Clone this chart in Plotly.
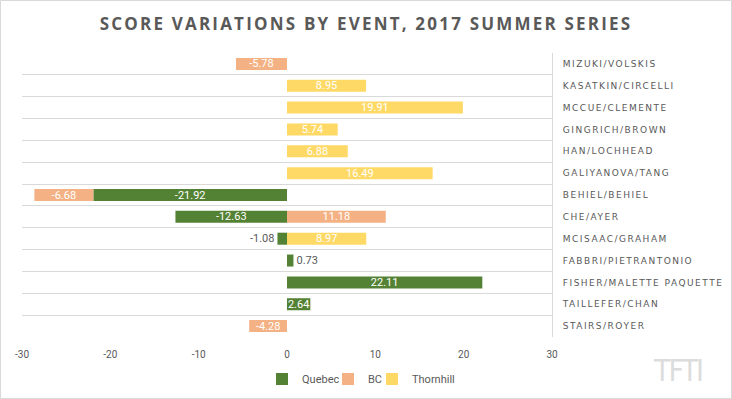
import plotly.graph_objects as go

categories = ["MIZUKI/VOLSKIS", "KASATKIN/CIRCELLI", "MCCUE/CLEMENTE", "GINGRICH/BROWN",
              "HAN/LOCHHEAD", "GALIYANOVA/TANG", "BEHIEL/BEHIEL", "CHE/AYER",
              "MCISAAC/GRAHAM", "FABBRI/PIETRANTONIO", "FISHER/MALETTE PAQUETTE",
              "TAILLEFER/CHAN", "STAIRS/ROYER"]
quebec = [None, None, None, None, None, None, -21.92, -12.63, -1.08, 0.73, 22.11, 2.64, None]
bc = [-5.78, None, None, None, None, None, -6.68, 11.18, None, None, None, None, -4.28]
thornhill = [None, 8.95, 19.91, 5.74, 6.88, 16.49, None, None, 8.97, None, None, None, None]
x_ticks = [-30, -20, -10, 0, 10, 20, 30]
title_text = "SCORE VARIATIONS BY EVENT, 2017 SUMMER SERIES"

series = [("Quebec", quebec, "#548235"), ("BC", bc, "#F4B183"), ("Thornhill", thornhill, "#FFD966")]
legend_text_x = [302, 368, 412]  # px where each legend label starts

W, H = 732, 399
L, R, T, B = 22, 180, 53, 62
pw, ph = W - L - R, H - T - B

fig = go.Figure()
for i, (name, vals, col) in enumerate(series):
    texts = ["" if v is None else f"{v:.2f}" for v in vals]
    pos = ["outside" if (v is not None and abs(v) < 2) else "inside" for v in vals]
    fig.add_trace(go.Bar(
        name=name, y=categories, x=vals, orientation="h",
        marker=dict(color=col, line=dict(width=0)),
        text=texts, textposition=pos, insidetextanchor="middle", textangle=0,
        insidetextfont=dict(color="white", size=11, family="Roboto"),
        outsidetextfont=dict(color="#595959", size=11, family="Roboto"),
        constraintext="none", cliponaxis=False,
        legend="legend" if i == 0 else f"legend{i + 1}",
    ))

legends = {}
for i, tx in enumerate(legend_text_x):
    key = "legend" if i == 0 else f"legend{i + 1}"
    legends[key] = dict(orientation="h", x=(tx - 40 - L) / pw, xanchor="left",
                        y=(H - B - 379) / ph, yanchor="middle",
                        font=dict(family="Roboto", size=11, color="#595959"),
                        itemwidth=30, bgcolor="rgba(0,0,0,0)", borderwidth=0)

fig.update_layout(
    width=W, height=H, barmode="relative", bargap=0.45,
    margin=dict(l=L, r=R, t=T, b=B, autoexpand=False),
    paper_bgcolor="white", plot_bgcolor="white",
    uniformtext=dict(mode="show", minsize=11),
    title=dict(text=f'<span style="letter-spacing:2.2px">{title_text}</span>',
               x=0.5, xref="container", xanchor="center",
               y=1 - 24 / H, yref="container", yanchor="middle",
               font=dict(family="Open Sans", size=17, color="#595959", weight="bold")),
    xaxis=dict(range=[-30, 30], tickvals=x_ticks, ticktext=[str(t) for t in x_ticks],
               showgrid=False, zeroline=False, showline=False, automargin=False,
               ticklabelstandoff=10,
               tickfont=dict(family="Roboto", size=10, color="#595959")),
    yaxis=dict(side="right", autorange="reversed", type="category",
               categoryorder="array", categoryarray=categories,
               tickvals=categories,
               ticktext=[f'<span style="letter-spacing:1.5px">{c}</span>' for c in categories],
               tickson="boundaries", showgrid=True, gridcolor="#d9d9d9", gridwidth=1,
               showline=True, linecolor="#d9d9d9", linewidth=1, ticks="", automargin=False,
               tickfont=dict(family="DejaVu Sans", size=9, color="#595959"),
               ticklabelstandoff=8),
    showlegend=True,
    **legends,
)

fig.add_annotation(text='<span style="letter-spacing:-2px">TFTI</span>', xref="paper", yref="paper",
                   x=(677 - L) / pw, y=(H - B - 370) / ph, showarrow=False,
                   xanchor="center", yanchor="middle",
                   font=dict(family="DejaVu Sans Condensed, Liberation Sans Narrow, Roboto",
                             size=30, color="#dcdcdc"))

fig.add_shape(type="rect", xref="paper", yref="paper",
              x0=(0.5 - L) / pw, x1=(W - 0.5 - L) / pw,
              y0=(H - B - (H - 0.5)) / ph, y1=(H - B - 0.5) / ph,
              line=dict(color="#d9d9d9", width=1), fillcolor="rgba(0,0,0,0)", layer="below")

fig.write_html("out.html", config={"displayModeBar": False},
               post_script="document.body.style.margin='0';document.body.style.overflow='hidden';")
